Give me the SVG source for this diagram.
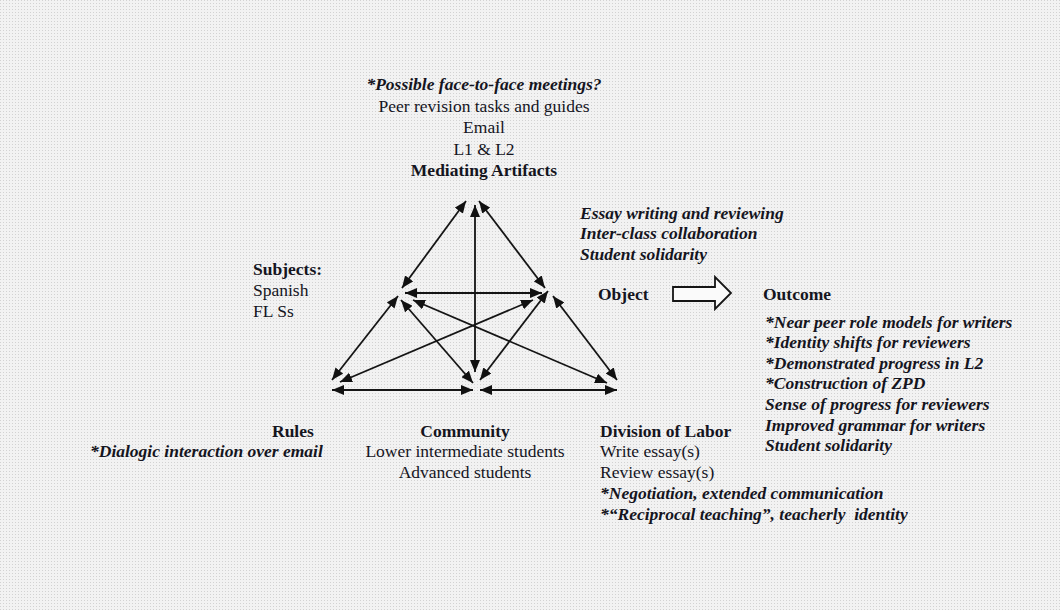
<svg xmlns="http://www.w3.org/2000/svg" width="1060" height="610" viewBox="0 0 1060 610" font-family="'Liberation Serif', 'DejaVu Serif', serif">
<style>
text{font-family:"Liberation Serif","DejaVu Serif",serif;font-size:17.5px;fill:#15151e}
.b{font-weight:bold}
.bi{font-weight:bold;font-style:italic}
.c{text-anchor:middle}
.ln{stroke:#151515;stroke-width:1.8;fill:none;marker-start:url(#ah);marker-end:url(#ah)}
</style>
<defs>
<pattern id="dots" width="3" height="3" patternUnits="userSpaceOnUse">
<rect width="3" height="3" fill="#f2f2f2"/>
<rect width="1" height="1" fill="#d2d2d2"/>
</pattern>
<marker id="ah" viewBox="0 0 12 10" refX="12" refY="5" markerWidth="12" markerHeight="10" markerUnits="userSpaceOnUse" orient="auto-start-reverse">
<path d="M0,0 L12,5 L0,10 Z" fill="#111"/>
</marker>
</defs>
<rect width="1060" height="610" fill="url(#dots)"/>

<g id="connectors">
<line class="ln" x1="466" y1="201" x2="402" y2="288"/>
<line class="ln" x1="479" y1="201" x2="545" y2="288"/>
<line class="ln" x1="475" y1="205" x2="475" y2="372"/>
<line class="ln" x1="405" y1="293" x2="542" y2="293"/>
<line class="ln" x1="398" y1="296" x2="332" y2="380"/>
<line class="ln" x1="401" y1="300" x2="473" y2="383"/>
<line class="ln" x1="413" y1="300" x2="607" y2="383"/>
<line class="ln" x1="533" y1="300" x2="340" y2="382"/>
<line class="ln" x1="548" y1="291" x2="480" y2="380"/>
<line class="ln" x1="553" y1="296" x2="617" y2="380"/>
<line class="ln" x1="332" y1="390" x2="473" y2="390"/>
<line class="ln" x1="480" y1="390" x2="617" y2="390"/>
<path id="object-outcome-arrow" d="M673,287 L715,287 L715,277 L731,293 L715,309 L715,301 L673,301 Z" fill="#fafafa" stroke="#151515" stroke-width="1.8" stroke-linejoin="miter"/>
</g>

<g id="mediating-artifacts">
<text class="bi c" x="484" y="90">*Possible face-to-face meetings?</text>
<text class="c" x="484" y="112">Peer revision tasks and guides</text>
<text class="c" x="484" y="133">Email</text>
<text class="c" x="484" y="155">L1 &amp; L2</text>
<text class="b c" x="484" y="176">Mediating Artifacts</text>
</g>

<g id="subjects">
<text class="b" x="253" y="275">Subjects:</text>
<text x="253" y="296">Spanish</text>
<text x="253" y="317">FL Ss</text>
</g>

<g id="object">
<text class="bi" x="580" y="219">Essay writing and reviewing</text>
<text class="bi" x="580" y="239">Inter-class collaboration</text>
<text class="bi" x="580" y="260">Student solidarity</text>
<text class="b" x="598" y="300">Object</text>
</g>

<g id="outcome">
<text class="b" x="763" y="300">Outcome</text>
<text class="bi" x="765" y="328">*Near peer role models for writers</text>
<text class="bi" x="765" y="348">*Identity shifts for reviewers</text>
<text class="bi" x="765" y="369">*Demonstrated progress in L2</text>
<text class="bi" x="765" y="389">*Construction of ZPD</text>
<text class="bi" x="765" y="410">Sense of progress for reviewers</text>
<text class="bi" x="765" y="431">Improved grammar for writers</text>
<text class="bi" x="765" y="451">Student solidarity</text>
</g>

<g id="rules">
<text class="b" x="272" y="437">Rules</text>
<text class="bi" x="90" y="457">*Dialogic interaction over email</text>
</g>

<g id="community">
<text class="b c" x="465" y="437">Community</text>
<text class="c" x="465" y="457">Lower intermediate students</text>
<text class="c" x="465" y="478">Advanced students</text>
</g>

<g id="division-of-labor">
<text class="b" x="600" y="437">Division of Labor</text>
<text x="600" y="457">Write essay(s)</text>
<text x="600" y="478">Review essay(s)</text>
<text class="bi" x="600" y="499">*Negotiation, extended communication</text>
<text class="bi" x="600" y="520" xml:space="preserve">*“Reciprocal teaching”, teacherly  identity</text>
</g>
</svg>
